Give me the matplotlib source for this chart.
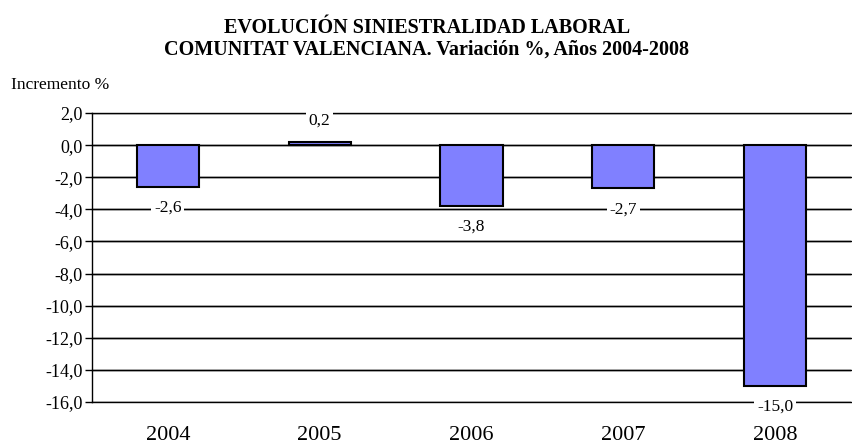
import matplotlib.pyplot as plt
from matplotlib.ticker import FuncFormatter

plt.rcParams['font.family'] = ['Liberation Serif', 'DejaVu Serif']

anios = ['2004', '2005', '2006', '2007', '2008']
variacion = [-2.6, 0.2, -3.8, -2.7, -15.0]
ticks_y = [2, 0, -2, -4, -6, -8, -10, -12, -14, -16]


def coma(v):
    return f'{v:.1f}'.replace('.', ',')


fig = plt.figure(figsize=(8.53, 4.44), dpi=100)
ax = fig.add_axes([92 / 853, 42 / 444, 759 / 853, 289 / 444])

ax.bar(range(len(anios)), variacion, width=0.41, color='#8080ff',
       edgecolor='black', linewidth=1.5, zorder=3)

ax.set_xlim(-0.5, len(anios) - 0.5)
ax.set_ylim(-16, 2)
ax.set_yticks(ticks_y)
ax.yaxis.set_major_formatter(FuncFormatter(lambda v, p: coma(v)))
ax.grid(axis='y', color='black', linewidth=1, zorder=0)
for t in ticks_y:
    ax.axhline(t, color='black', linewidth=1, zorder=0, clip_on=False)
ax.tick_params(axis='y', length=5, width=1, labelsize=13, pad=2)
ax.set_xticks(range(len(anios)))
ax.set_xticklabels(anios, fontsize=16)
ax.tick_params(axis='x', length=0, pad=17)

for s in ['top', 'right', 'bottom']:
    ax.spines[s].set_visible(False)
ax.spines['left'].set_linewidth(1)

# etiquetas de datos
for i, v in enumerate(variacion):
    off = 21 if v > 0 else -21
    ax.annotate(coma(v), (i, v), xytext=(0, off), textcoords='offset pixels',
                ha='center', va='center', fontsize=12.5, zorder=5,
                bbox=dict(facecolor='white', edgecolor='none', pad=2))

fig.text(427 / 853, 1 - 28 / 444, 'EVOLUCIÓN SINIESTRALIDAD LABORAL',
         ha='center', va='center', fontsize=14.5, fontweight='bold')
fig.text(427 / 853, 1 - 49.5 / 444,
         'COMUNITAT VALENCIANA. Variación %, Años 2004-2008',
         ha='center', va='center', fontsize=14.5, fontweight='bold')
fig.text(11 / 853, 1 - 85 / 444, 'Incremento %', ha='left', va='center',
         fontsize=12.5)

fig.savefig('out.png', dpi=100)
